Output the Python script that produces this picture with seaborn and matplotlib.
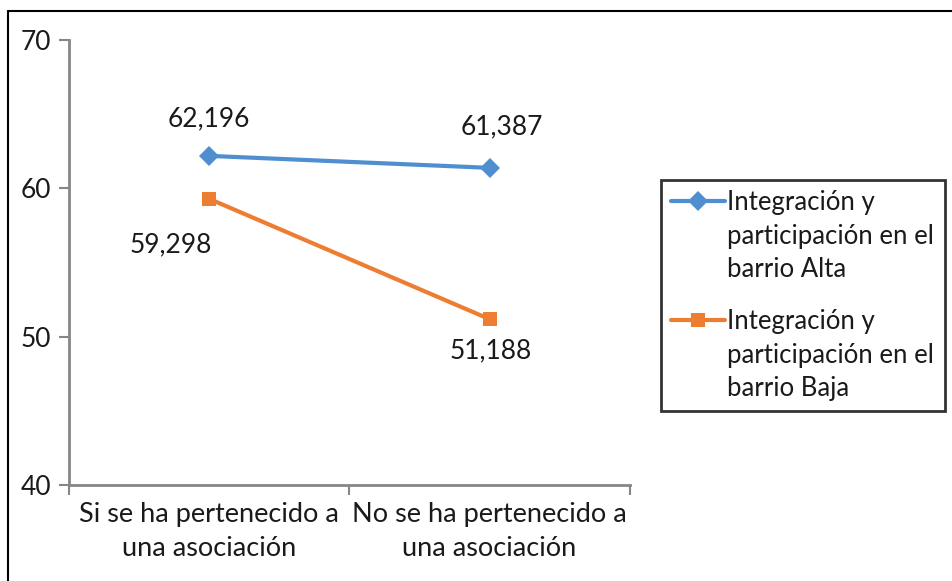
import matplotlib
matplotlib.use("Agg")
import matplotlib.pyplot as plt
import seaborn as sns
import pandas as pd
from matplotlib.lines import Line2D
from matplotlib.legend_handler import HandlerLine2D

categories = ["Si se ha pertenecido a\nuna asociación", "No se ha pertenecido a\nuna asociación"]
series_names = ["Integración y\nparticipación en el\nbarrio Alta",
                "Integración y\nparticipación en el\nbarrio Baja"]
alta = [62.196, 61.387]
baja = [59.298, 51.188]
yticks = [40, 50, 60, 70]

colors = ["#4F8FD0", "#ED7D31"]
markers = ["D", "s"]
FS = 19
LFS = 18.5
LSP = 1.42

sns.set_theme(style="white")
plt.rcParams["font.family"] = ["Lato", "DejaVu Sans"]

df = pd.DataFrame({
    "cat": categories * 2,
    "value": alta + baja,
    "serie": [series_names[0]] * 2 + [series_names[1]] * 2,
})

fig = plt.figure(figsize=(9.52, 5.81), dpi=100)
ax = fig.add_axes([0.0725, 0.165, 0.589, 0.766])

sns.lineplot(data=df, x="cat", y="value", hue="serie", style="serie",
             markers=markers, dashes=False, palette=colors, linewidth=3,
             markersize=10, markeredgewidth=0, ax=ax, legend=False, sort=False)

ax.set_xlim(-0.5, 1.5)
ax.set_ylim(40, 70)
ax.set_yticks(yticks)
ax.set_yticklabels([str(t) for t in yticks], fontsize=FS, color="#1a1a1a")
ax.set_xticks([-0.5, 0.5, 1.5])
ax.set_xticklabels([])
ax.set_xticks([0, 1], minor=True)
ax.set_xticklabels(categories, minor=True, fontsize=FS + 0.5, color="#1a1a1a", linespacing=1.45)
ax.tick_params(axis="x", which="minor", length=0, pad=12)
ax.tick_params(axis="x", which="major", length=7, width=1.5, color="#868686", direction="out", bottom=True)
ax.tick_params(axis="y", length=7, width=1.5, color="#868686", direction="out", left=True, pad=6)
ax.set_xlabel("")
ax.set_ylabel("")
for s in ["top", "right"]:
    ax.spines[s].set_visible(False)
for s in ["left", "bottom"]:
    ax.spines[s].set_color("#868686")
    ax.spines[s].set_linewidth(2)

# data labels
offsets_alta = [(0, 37), (12, 41)]
offsets_baja = [(-38, -46), (1, -32)]
for i, v in enumerate(alta):
    ax.annotate(f"{v:.3f}".replace(".", ","), (i, v), xytext=offsets_alta[i],
                textcoords="offset pixels", ha="center", va="center",
                fontsize=FS, color="#1a1a1a")
for i, v in enumerate(baja):
    ax.annotate(f"{v:.3f}".replace(".", ","), (i, v), xytext=offsets_baja[i],
                textcoords="offset pixels", ha="center", va="center",
                fontsize=FS, color="#1a1a1a")


class TopHandler(HandlerLine2D):
    def create_artists(self, legend, orig_handle, xdescent, ydescent, width,
                       height, fontsize, trans):
        arts = super().create_artists(legend, orig_handle, xdescent, ydescent,
                                      width, height, fontsize, trans)
        shift = fontsize * LSP
        for a in arts:
            a.set_ydata([y + shift for y in a.get_ydata()])
        return arts


handles = [Line2D([0], [0], color=colors[k], marker=markers[k], lw=3,
                  markersize=10, markeredgewidth=0) for k in range(2)]
leg = fig.legend(handles, series_names, loc="upper left",
                 bbox_to_anchor=(0.694, 0.690), bbox_transform=fig.transFigure,
                 fontsize=LFS, frameon=True, fancybox=False, handlelength=2.1,
                 handletextpad=0.1, borderpad=0.4, labelspacing=1.05,
                 borderaxespad=0, handler_map={Line2D: TopHandler()})
leg.get_frame().set_edgecolor("black")
leg.get_frame().set_linewidth(2)
for t in leg.get_texts():
    t.set_color("#1a1a1a")
    t.set_linespacing(LSP)

# outer chart border (top and left visible)
fig.add_artist(Line2D([8/952, 8/952], [0, 1 - 11/581], color="black", lw=1.5,
                      transform=fig.transFigure))
fig.add_artist(Line2D([8/952, 1], [1 - 11/581, 1 - 11/581], color="black", lw=1.5,
                      transform=fig.transFigure))

fig.savefig("out.png", dpi=100)
